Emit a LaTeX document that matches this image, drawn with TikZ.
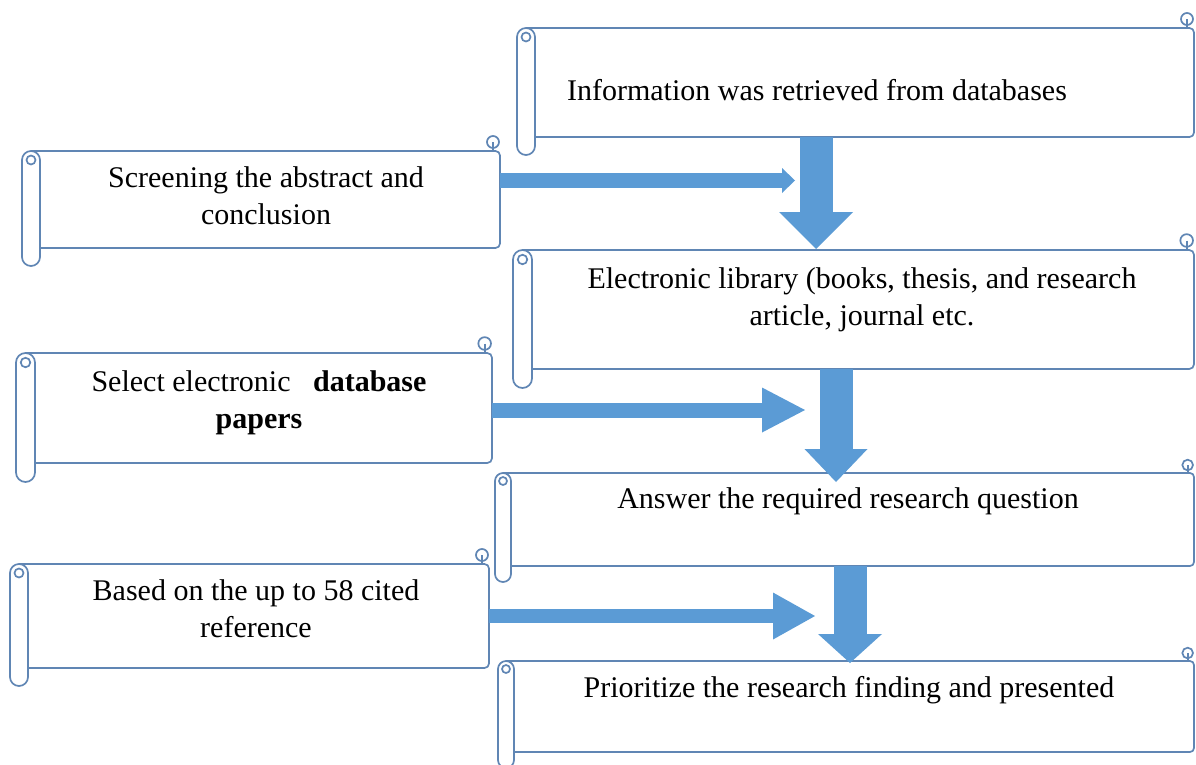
\documentclass[tikz,border=0pt]{standalone}
\usepackage{fontspec}
\setmainfont{Liberation Serif}
\usetikzlibrary{arrows.meta}

\definecolor{scrollblue}{RGB}{96,134,180}
\definecolor{arrowblue}{RGB}{91,155,213}

% scroll outline round a frame node: #1 node, #2 roll size
\newcommand\scrollframe[2]{%
  \pgfmathsetmacro\rs{#2}%
  \pgfmathsetmacro\rh{#2/2}%
  \pgfmathsetmacro\rq{#2/4}%
  \pgfmathsetmacro\rt{#2/3}%
  \draw[scroll, rounded corners=\rh pt] (#1.north west) rectangle ([shift={(\rs,\rs)}]#1.south west);
  \draw[scroll] ([shift={(\rh,\rh)}]#1.north west) circle[radius=\rq pt];
  \draw[scroll, rounded corners=\rq pt] ([xshift=\rh pt]#1.north west) -- (#1.north east) -- (#1.south east) -- ([xshift=\rs pt]#1.south west);
  \draw[scroll] ([shift={(-\rt-1,-\rh)}]#1.north east) circle[radius=\rt pt];
  \draw[scroll] ([shift={(-\rt-1,-\rh)}]#1.north east) -- ([xshift=-\rt pt-1pt]#1.north east);
}

\begin{document}
\begin{tikzpicture}[x=1pt,y=-1pt]

\tikzset{frame/.style = {inner sep=0pt, outer sep=0pt}}
\tikzset{scroll/.style = {draw=scrollblue, line width=1.7pt}}
\tikzset{scrolltext/.style = {font=\fontsize{30}{37}\selectfont, align=center, inner sep=0pt}}
\tikzset{flow/.style n args = {3}{draw=arrowblue, line width=#1pt, -{Triangle[length=#2pt, width=#3pt, line width=0pt]}}}

\useasboundingbox (0,0) rectangle (1196,764);

% frames
\node[frame, minimum width=677pt, minimum height=109pt] (info) at (855.5,82.5) {};
\node[frame, minimum width=478pt, minimum height=97pt] (screen) at (261,199.5) {};
\node[frame, minimum width=681pt, minimum height=119pt] (elib) at (853.5,309.5) {};
\node[frame, minimum width=476pt, minimum height=110pt] (select) at (254,408) {};
\node[frame, minimum width=699pt, minimum height=93pt] (answer) at (844.5,519.5) {};
\node[frame, minimum width=479pt, minimum height=104pt] (based) at (249.5,616) {};
\node[frame, minimum width=696pt, minimum height=91pt] (prio) at (846,706.5) {};
\scrollframe{info}{18}
\scrollframe{screen}{18}
\scrollframe{elib}{19}
\scrollframe{select}{19}
\scrollframe{answer}{16}
\scrollframe{based}{18}
\scrollframe{prio}{16}

% texts
\node[scrolltext, anchor=base] (infotext) at (817,100) {Information was retrieved from databases};
\node[scrolltext] (screentext) at (266,196) {Screening the abstract and\\conclusion};
\node[scrolltext] (elibtext) at (862,299.5) {Electronic library (books, thesis, and research\\article, journal etc.};
\node[scrolltext] (selecttext) at (259,403) {Select electronic\ \ \ \textbf{database}\\\textbf{papers}};
\node[scrolltext, anchor=base] (answertext) at (848,508) {Answer the required research question};
\node[scrolltext] (basedtext) at (256,609) {Based on the up to 58 cited\\reference};
\node[scrolltext, anchor=base] (priotext) at (849,697) {Prioritize the research finding and presented};

% arrows
\coordinate (tip1) at (816,249);
\coordinate (tip2) at (836,482);
\coordinate (tip3) at (850,663);
\coordinate (tipA) at (795,180.5);
\coordinate (tipB) at (805,410);
\coordinate (tipC) at (815,616);
\draw[flow={33}{37}{74}] (info.south -| tip1) -- (tip1);
\draw[flow={33}{33}{63}] (elib.south -| tip2) -- (tip2);
\draw[flow={33}{29}{64}] (answer.south -| tip3) -- (tip3);
\draw[flow={15}{13}{25}] (screen.east |- tipA) -- (tipA);
\draw[flow={15}{43}{45}] (select.east |- tipB) -- (tipB);
\draw[flow={14}{42}{47}] (based.east |- tipC) -- (tipC);
\end{tikzpicture}
\end{document}
